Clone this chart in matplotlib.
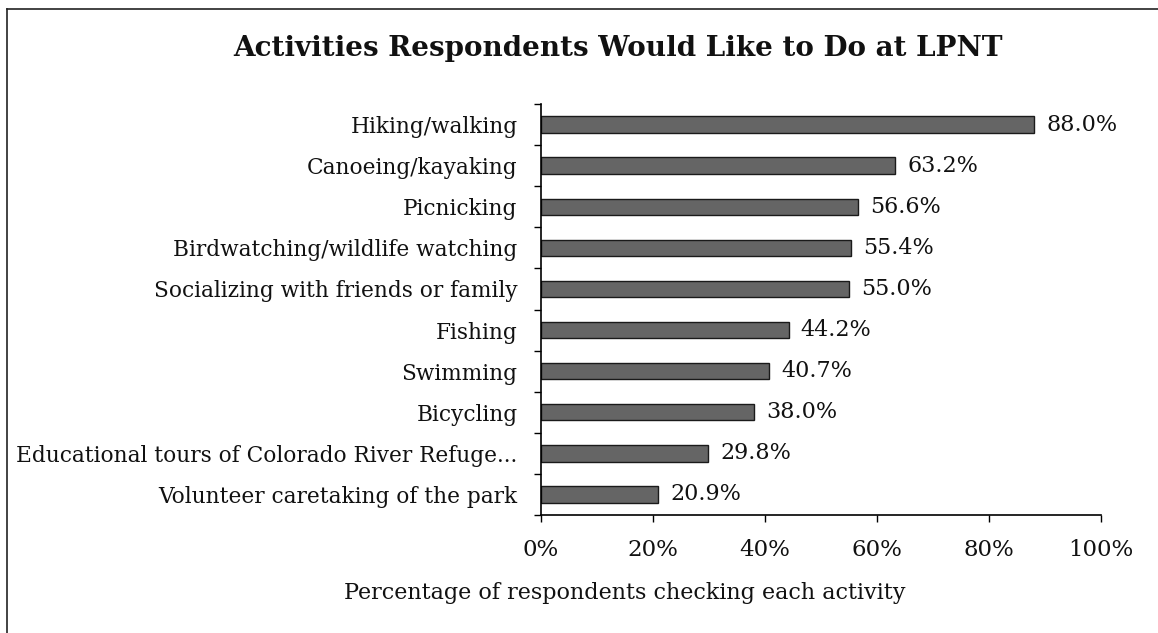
import matplotlib
matplotlib.use("Agg")
import matplotlib.pyplot as plt
from matplotlib.lines import Line2D
import numpy as np

categories = ["Hiking/walking", "Canoeing/kayaking", "Picnicking",
              "Birdwatching/wildlife watching", "Socializing with friends or family",
              "Fishing", "Swimming", "Bicycling",
              "Educational tours of Colorado River Refuge...",
              "Volunteer caretaking of the park"]
values = [88.0, 63.2, 56.6, 55.4, 55.0, 44.2, 40.7, 38.0, 29.8, 20.9]
xticks = [0, 20, 40, 60, 80, 100]
xtick_labels = ["0%", "20%", "40%", "60%", "80%", "100%"]

FONT = "DejaVu Serif"
W, H = 1158, 633
fig = plt.figure(figsize=(W / 100, H / 100), dpi=100)
ax = fig.add_axes([541 / W, 1 - 515 / H, (1101 - 541) / W, (515 - 104) / H])

n = len(categories)
y = np.arange(n)
ax.barh(y, values, height=0.4, color="#656565", edgecolor="#1a1a1a", linewidth=1.0)
ax.set_ylim(n - 0.5, -0.5)
ax.set_xlim(0, 100)

for yi, v in zip(y, values):
    ax.text(v + 2.2, yi, f"{v:.1f}%", va="center", ha="left",
            fontsize=16, family=FONT, color="#111111")

ax.set_yticks(y)
ax.set_yticklabels(categories, family=FONT, fontsize=15.6, color="#111111")
ax.set_yticks(np.arange(n + 1) - 0.5, minor=True)
ax.tick_params(axis="y", which="major", length=0, pad=17)
ax.tick_params(axis="y", which="minor", length=5, width=1, direction="out")

ax.set_xticks(xticks)
ax.set_xticklabels(xtick_labels, family=FONT, fontsize=16.5, color="#111111")
ax.tick_params(axis="x", length=5, width=1, direction="out", pad=12)

for s in ["top", "right"]:
    ax.spines[s].set_visible(False)
ax.spines["left"].set_linewidth(1.2)
ax.spines["bottom"].set_linewidth(1.2)

fig.text(618 / W, 1 - 48 / H, "Activities Respondents Would Like to Do at LPNT",
         ha="center", va="center", fontsize=20, fontweight="bold", family=FONT, color="#111111")
fig.text(625 / W, 1 - 593 / H, "Percentage of respondents checking each activity",
         ha="center", va="center", fontsize=16, family=FONT, color="#111111")

fig.add_artist(Line2D([7 / W, 7 / W], [0, 1 - 9 / H], color="#222222", lw=1.2))
fig.add_artist(Line2D([7 / W, 1], [1 - 9 / H, 1 - 9 / H], color="#222222", lw=1.2))

fig.savefig("out.png", dpi=100, facecolor="white")
